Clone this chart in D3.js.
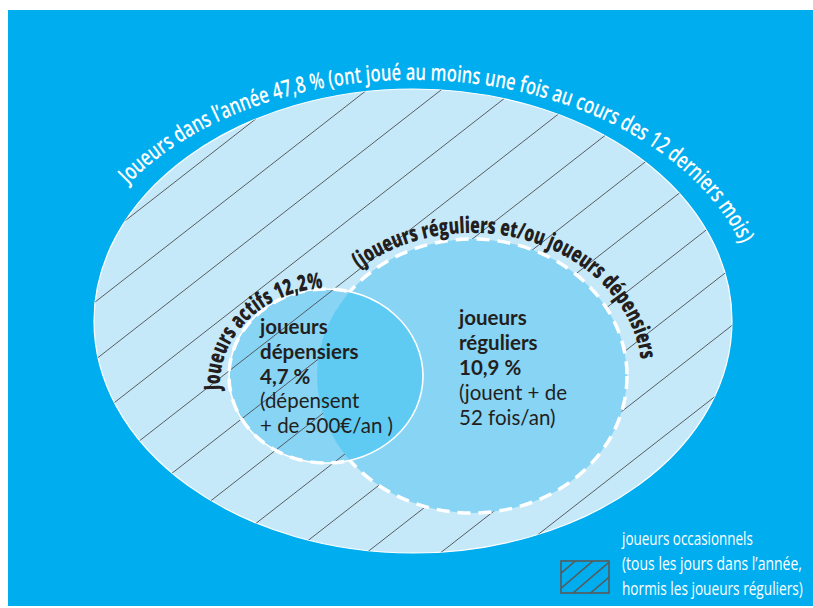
<!DOCTYPE html>
<html><head><meta charset="utf-8">
<script src="https://cdn.jsdelivr.net/npm/d3@7"></script>
<style>body{margin:0;background:#fff} svg{display:block}</style>
</head><body>
<svg id="chart" width="813" height="608"></svg>
<script>
// ---------- data ----------
const categories = ["Joueurs dans l’année", "Joueurs actifs", "joueurs dépensiers", "joueurs réguliers", "joueurs occasionnels"];
const shares = [47.8, 12.2, 4.7, 10.9];
const outerNote = "(ont joué au moins une fois au cours des 12 derniers mois)";
const activeNote = "(joueurs réguliers et/ou joueurs dépensiers";
const spenderNote = ["(dépensent", "+ de 500€/an )"];
const regularNote = ["(jouent + de", "52 fois/an)"];
const legendLines = ["joueurs occasionnels", "(tous les jours dans l’année,", "hormis les joueurs réguliers)"];

// ---------- layout ----------
const fr = d3.formatLocale({decimal: ",", thousands: " ", grouping: [3], currency: ["", "€"]});
const f1 = fr.format(".1f");
const W = 813, H = 608;
const C = {bg: "#00aeef", outer: "#c6e9fa", circ: "#87d4f5", overlap: "#5fcbf3", hatch: "#4d4d4f", dark: "#231f20"};
const outer = {cx: 413, cy: 321, rx: 319, ry: 232};
const small = {cx: 326, cy: 376, rx: 97, ry: 87};
const big = {cx: 472, cy: 376, rx: 155, ry: 137};
const FONT = "'Open Sans', 'DejaVu Sans', sans-serif";

const svg = d3.select("#chart");
const defs = svg.append("defs");

svg.append("rect").attr("x", 8).attr("y", 10).attr("width", W - 8).attr("height", 596).attr("fill", C.bg);

function ell(sel, e) {
  return sel.append("ellipse").attr("cx", e.cx).attr("cy", e.cy).attr("rx", e.rx).attr("ry", e.ry);
}

// clip / masks
ell(defs.append("clipPath").attr("id", "clipSmall"), small);
const hm = defs.append("mask").attr("id", "hatchMask");
hm.append("rect").attr("width", W).attr("height", H).attr("fill", "black");
ell(hm, outer).attr("fill", "white");
ell(hm, big).attr("fill", "black");
const mBig = defs.append("mask").attr("id", "noBig");
mBig.append("rect").attr("width", W).attr("height", H).attr("fill", "white");
ell(mBig, big).attr("fill", "black");
const mSmall = defs.append("mask").attr("id", "noSmall");
mSmall.append("rect").attr("width", W).attr("height", H).attr("fill", "white");
ell(mSmall, small).attr("fill", "black");

// fills
ell(svg, outer).attr("fill", C.outer).attr("stroke", "#fff").attr("stroke-width", 1.2);
ell(svg, small).attr("fill", C.circ);
ell(svg, big).attr("fill", C.circ);
ell(svg.append("g").attr("clip-path", "url(#clipSmall)"), big).attr("fill", C.overlap);

// hatching (occasional players: outer minus regular)
const slope = 0.78, c0 = 549.6, step = 57.8;
const hatchC = d3.range(-8, 14).map(k => c0 + k * step);
const line = d3.line();
svg.append("g").attr("mask", "url(#hatchMask)")
  .selectAll("path").data(hatchC).join("path")
  .attr("d", c => line([[0, c], [W, c - slope * W]]))
  .attr("stroke", C.hatch).attr("stroke-width", 0.9).attr("fill", "none");

// outlines
ell(svg, small).attr("fill", "none").attr("stroke", "#fff").attr("stroke-width", 1.6);
ell(svg.append("g").attr("mask", "url(#noSmall)"), big).attr("fill", "none")
  .attr("stroke", "#fff").attr("stroke-width", 3.5).attr("stroke-dasharray", "13 8");
ell(svg.append("g").attr("mask", "url(#noBig)"), small).attr("fill", "none")
  .attr("stroke", "#fff").attr("stroke-width", 3.5).attr("stroke-dasharray", "13 8");

// arc texts: glyphs placed one by one along the path, condensed horizontally
function arcD(e, t0, t1) {
  const r = Math.PI / 180;
  const p = t => [e.cx + e.rx * Math.cos(t * r), e.cy + e.ry * Math.sin(t * r)];
  const a = p(t0), b = p(t1);
  return `M${a[0]},${a[1]} A${e.rx},${e.ry} 0 ${(t1 - t0) > 180 ? 1 : 0} 1 ${b[0]},${b[1]}`;
}
function styled(sel, o) {
  return sel.attr("font-family", FONT).attr("font-size", o.size).attr("font-weight", o.weight).attr("fill", o.fill);
}
function arcText(id, e, t0, t1, txt, o) {
  const pn = defs.append("path").attr("id", id).attr("d", arcD(e, t0, t1)).node();
  const L = pn.getTotalLength();
  const meas = styled(svg.append("text"), o).attr("x", 0).attr("y", 0).text(txt);
  const mn = meas.node();
  const n = mn.getNumberOfChars();
  const total = mn.getComputedTextLength();
  const k = L / total;
  const chars = d3.range(n).map(i => ({
    ch: txt[i], s: mn.getStartPositionOfChar(i).x, w: mn.getSubStringLength(i, 1)
  }));
  meas.remove();
  const g = styled(svg.append("g"), o);
  g.selectAll("text").data(chars.filter(d => d.ch !== " ")).join("text")
    .attr("text-anchor", "middle")
    .attr("transform", d => {
      const s = Math.max(0.6, Math.min(L - 0.6, (d.s + d.w / 2) * k));
      const a = pn.getPointAtLength(s - 0.5), b = pn.getPointAtLength(s + 0.5);
      const m = pn.getPointAtLength(s);
      const ang = Math.atan2(b.y - a.y, b.x - a.x) * 180 / Math.PI;
      return `translate(${m.x},${m.y}) rotate(${ang}) scale(${k},1)`;
    })
    .text(d => d.ch);
}
arcText("pOuter", {cx: 413, cy: 321, rx: 346, ry: 241}, -145.5, -18.6,
  `${categories[0]} ${f1(shares[0])} % ${outerNote}`, {size: 23, weight: 600, fill: "#fff"});
arcText("pActive", {cx: 330, cy: 385, rx: 110, ry: 97}, 177, 266.3,
  `${categories[1]} ${f1(shares[1])}%`, {size: 22.5, weight: 800, fill: C.dark});
arcText("pReg", {cx: 472, cy: 376, rx: 170, ry: 143}, -131.6, -6.5,
  activeNote, {size: 22.5, weight: 800, fill: C.dark});

// inner labels
function block(x, y0, dy, bold, regular) {
  const g = svg.append("g").attr("font-family", "Lato, sans-serif").attr("font-size", 20.5).attr("fill", C.dark);
  const rows = bold.map(s => ({s, w: 700})).concat(regular.map(s => ({s, w: 400})));
  g.selectAll("text").data(rows).join("text")
    .attr("x", x).attr("y", (d, i) => y0 + i * dy)
    .attr("font-weight", d => d.w).text(d => d.s);
}
const [sp1, sp2] = categories[2].split(" ");
const [rg1, rg2] = categories[3].split(" ");
block(260, 334, 24.8, [sp1, sp2, `${f1(shares[2])} %`], spenderNote);
block(459, 325, 25, [rg1, rg2, `${f1(shares[3])} %`], regularNote);

// legend
const lg = svg.append("g");
lg.append("clipPath").attr("id", "clipLeg").append("rect").attr("x", 561).attr("y", 561).attr("width", 48).attr("height", 32);
lg.append("g").attr("clip-path", "url(#clipLeg)").selectAll("path").data(d3.range(0, 5).map(k => 1050 + k * 15)).join("path")
  .attr("d", c => line([[540, c - 0.85 * 540], [620, c - 0.85 * 620]]))
  .attr("stroke", "#58595b").attr("stroke-width", 1.5).attr("fill", "none");
lg.append("rect").attr("x", 561).attr("y", 561).attr("width", 48).attr("height", 32)
  .attr("fill", "none").attr("stroke", "#58595b").attr("stroke-width", 1.6);
const legW = [131, 180, 181];
const lt = lg.selectAll("text").data(legendLines).join("text")
  .attr("font-family", FONT).attr("font-size", 19).attr("font-weight", 500).attr("fill", "#fff")
  .text(d => d);
lt.attr("transform", function(d, i) {
  const k = legW[i] / this.getComputedTextLength();
  return `translate(622,${545 + i * 25}) scale(${k},1)`;
});
</script>
</body></html>
